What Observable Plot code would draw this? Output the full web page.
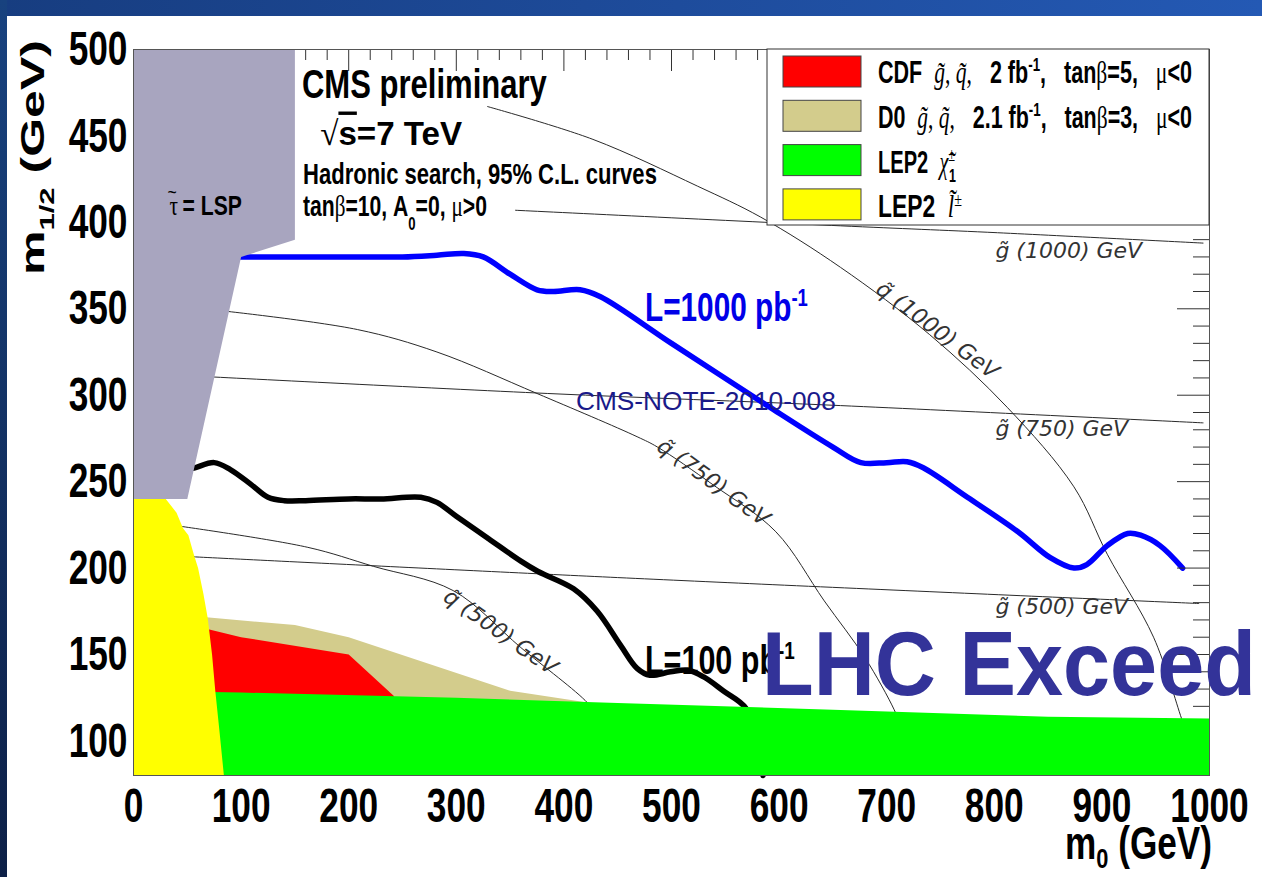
<!DOCTYPE html>
<html>
<head>
<meta charset="utf-8">
<script src="https://cdn.jsdelivr.net/npm/d3@7"></script>
<script src="https://cdn.jsdelivr.net/npm/@observablehq/plot@0.6"></script>
<style>
  html, body { margin: 0; padding: 0; background: #fff; }
  #page { position: relative; width: 1262px; height: 877px; overflow: hidden; background: #fff; }
  #chart { position: absolute; left: 0; top: 0; }
  #top-band { position: absolute; left: 0; top: 0; width: 1262px; height: 16px; z-index: 2;
    background: linear-gradient(to right, #173d80, #2459b4); }
  #left-band { position: absolute; left: 0; top: 0; width: 7px; height: 877px; z-index: 2;
    background: linear-gradient(to bottom, #18427f, #0d2047); }
</style>
</head>
<body>
<div id="page">
  <div id="chart"></div>
  <div id="top-band"></div>
  <div id="left-band"></div>
</div>
<script>
const SANS = "'Liberation Sans', Arial, Helvetica, sans-serif";
const SERIF = "'Liberation Serif', 'Times New Roman', serif";
const LIGHT = "'DejaVu Sans', sans-serif";

// ---- axis ticks (GeV) ----
const m0Ticks = [0, 100, 200, 300, 400, 500, 600, 700, 800, 900, 1000];
const m12Ticks = [100, 150, 200, 250, 300, 350, 400, 450, 500];
const m0MinorTicks = d3.range(0, 1001, 20).filter(v => v % 100 !== 0);
const m12MinorTicks = d3.range(80, 501, 10).filter(v => v % 50 !== 0);

// ---- 95% C.L. reach curves, [m0, m1/2] ----
const reach1000 = [[95,380],[150,380],[200,380],[250,380],[282,381],[307,382],[325,380],[350,370],
  [375,361],[390,360],[415,361],[434,357],[500,330],[589,294],[650,270],[676,261],[700,261],
  [719,261.5],[734,258],[775,241],[822,221],[852,206],[874,200],[886,202],[905,213],[924,220],
  [936,219],[954,213],[975,200]];
const reach100 = [[50,257],[57,258],[75,261],[90,257],[110,248],[125,241],[140,239],[160,239],
  [200,240],[230,240],[267,241],[282,238],[300,230],[330,217],[360,204],[376,198],[409,188],
  [431,175],[453,155],[468,142],[480,138],[499,140],[515,141],[530,137],[548,129],[569,119],
  [578,100],[585,80]];

// ---- iso-mass contours ----
const gluino1000 = [[355,407],[657,398],[803,394],[994,388]];
const gluino750 = [[60,311],[385,301],[657,294],[994,284]];
const gluino500 = [[40,207],[450,194.5],[990,179.5]];
const squark1000 = [[329,467],[427,448],[524,421],[583,403],[657,374],[740,335],[812,293],
  [874,247],[905,208],[948,160],[974,113],[978,106]];
const squark750 = [[80,349],[208,338],[282,325],[375,301],[468,276],[487,270],[539,248],
  [597,221],[642,181],[680,148],[707,118],[712,110]];
const squark500 = [[40,224.5],[162,212],[223,201],[297,187],[360,154],[422,122],[430,115]];

const gluinoLabels = [
  {m0: 801, m12: 383.5, text: "g\u0303 (1000) GeV"},
  {m0: 801, m12: 280.5, text: "g\u0303 (750) GeV"},
  {m0: 801, m12: 177.5, text: "g\u0303 (500) GeV"}
];
const squarkLabels = [
  {m0: 747, m12: 337.5, angle: 37, text: "q\u0303 (1000) GeV"},
  {m0: 539, m12: 249.5, angle: 36, text: "q\u0303 (750) GeV"},
  {m0: 341, m12: 163, angle: 35, text: "q\u0303 (500) GeV"}
];

// ---- excluded regions ----
const stauLsp = [[0,500],[150,500],[150,390],[100,380],[50,240],[0,240]];
const lep2Slepton = [[0,80],[0,240],[30,240],[40,232],[46,223],[51,219],[56,208],[60,200],
  [65,185],[69,171],[73,150],[76,129],[80,105],[84,80]];
const lep2Chargino = [[0,129],[100,128],[300,125],[450,122],[650,118],[850,114],[1000,113],[1000,80],[0,80]];
const cdf = [[60,166],[100,160],[200,150],[242,126],[242,110],[60,110]];
const d0 = [[60,172],[150,167],[200,160],[350,129],[425,122],[425,110],[60,110]];

// ---- legend ----
const legendColors = ["#ff0000", "#d3cc8c", "#00ff00", "#ffff00"];
const legendLabels = [
  ["CDF  ", {t: "g\u0303", serif: true, italic: true}, {t: ", ", serif: true}, {t: "q\u0303", serif: true, italic: true},
   {t: ",", serif: true}, "   2 fb", {t: "-1", sup: true}, ",   tan", {t: "\u03b2", serif: true}, "=5,   ",
   {t: "\u03bc", serif: true}, "<0"],
  ["D0  ", {t: "g\u0303", serif: true, italic: true}, {t: ", ", serif: true}, {t: "q\u0303", serif: true, italic: true},
   {t: ",", serif: true}, "   2.1 fb", {t: "-1", sup: true}, ",   tan", {t: "\u03b2", serif: true}, "=3,   ",
   {t: "\u03bc", serif: true}, "<0"],
  ["LEP2  ", {t: "\u03c7\u0303", serif: true, italic: true}, {t: "\u00b1", sup: true, serif: true},
   {t: "1", sub: true, dx: -0.3}],
  ["LEP2  ", {t: "l\u0303", serif: true, italic: true}, {t: "\u00b1", sup: true, serif: true}]
];
const legendWidths = [314, 314, 84, 84];

// ---- layout ----
const W = 1262, H = 877, ML = 133, MR = 53, MT = 49, MB = 102;
const frameW = W - ML - MR, frameH = H - MT - MB;
const xy = {x: d => d[0], y: d => d[1]};
const contour = {...xy, stroke: "#2a2a2a", strokeWidth: 1, curve: "catmull-rom"};
const region = (data, color, curve = "linear") => Plot.line(data, {...xy, fill: color, stroke: "none", curve});
const tickText = {tickSize: 0, fontSize: 49, fontWeight: "bold", fontFamily: SANS, fill: "#000",
  tickFormat: d => `${d}`, label: null};

const plot = Plot.plot({
  width: W, height: H,
  marginLeft: ML, marginRight: MR, marginTop: MT, marginBottom: MB,
  x: {domain: [0, 1000]},
  y: {domain: [80, 500]},
  style: {background: "transparent", fontFamily: SANS, overflow: "visible"},
  marks: [
    ...[gluino1000, gluino750, gluino500, squark1000, squark750, squark500].map(c => Plot.line(c, contour)),
    Plot.line(reach100, {...xy, stroke: "#000", strokeWidth: 5.5, curve: "catmull-rom"}),
    Plot.line(reach1000, {...xy, stroke: "#0000ff", strokeWidth: 5.5, curve: "catmull-rom"}),
    // inward ticks along the top and right edges
    Plot.ruleX(m0MinorTicks, {x: d => d, insetBottom: frameH - 11, stroke: "#333"}),
    Plot.ruleX(m0Ticks, {x: d => d, insetBottom: frameH - 22, stroke: "#333"}),
    Plot.ruleY(m12MinorTicks, {y: d => d, insetLeft: frameW - 16, stroke: "#333"}),
    Plot.ruleY(m12Ticks, {y: d => d, insetLeft: frameW - 32, stroke: "#333"}),
    region(d0, "#d3cc8c"),
    region(cdf, "#ff0000"),
    region(lep2Chargino, "#00ff00"),
    region(lep2Slepton, "#ffff00"),
    region(stauLsp, "#a8a5bf"),
    Plot.frame({stroke: "#555"}),
    Plot.axisX(m0Ticks, {...tickText, anchor: "bottom", tickPadding: 12}),
    Plot.axisY(m12Ticks, {...tickText, anchor: "left", tickPadding: 6}),
    Plot.text(gluinoLabels, {x: "m0", y: "m12", text: "text", textAnchor: "start", fontSize: 22,
      fontStyle: "italic", fontWeight: 300, fontFamily: LIGHT, fill: "#333"}),
    Plot.text(squarkLabels, {x: "m0", y: "m12", text: "text", rotate: "angle", textAnchor: "middle", fontSize: 22,
      fontStyle: "italic", fontWeight: 300, fontFamily: LIGHT, fill: "#333"})
  ]
});
document.getElementById("chart").append(plot);

// condensed bold tick labels: narrow each glyph run about its own anchor
plot.querySelectorAll('g[aria-label="x-axis tick label"] text, g[aria-label="y-axis tick label"] text').forEach(t => {
  const tr = t.getAttribute("transform") || "";
  t.setAttribute("transform", `${tr} scale(0.72,1)`);
});

const X = plot.scale("x"), Y = plot.scale("y");
const svg = d3.select(plot);

// rich text: parts are plain strings or {t, sup, sub, serif, italic, over, tilde, dx}
function note(parent, parts, o) {
  const size = o.size;
  const t = parent.append("text")
    .attr("text-anchor", "start")
    .attr("font-family", o.family || SANS)
    .attr("font-weight", o.weight || "bold")
    .attr("font-size", size)
    .attr("fill", o.fill || "#000")
    .attr("xml:space", "preserve")
    .style("white-space", "pre");
  let shift = 0;
  for (const seg of parts) {
    const s = typeof seg === "string" ? {t: seg} : seg;
    const target = s.sup ? -0.38 * size : s.sub ? (s.drop || 0.3) * size : s.tilde ? -0.6 * size : 0;
    const ts = t.append("tspan").text(s.t);
    if (target !== shift) ts.attr("dy", target - shift);
    shift = target;
    if (s.sup || s.sub) ts.attr("font-size", 0.62 * size);
    if (s.tilde) ts.attr("font-size", 0.75 * size).attr("font-weight", "normal").attr("dx", -0.5 * size);
    if (s.serif) ts.attr("font-family", SERIF).attr("font-weight", "normal");
    if (s.italic) ts.attr("font-style", "italic");
    if (s.dx) ts.attr("dx", s.dx * size);
    if (s.over) ts.style("text-decoration", "overline");
  }
  const w = t.node().getComputedTextLength();
  const k = o.width ? o.width / w : (o.sx || 1);
  const off = o.anchor === "end" ? -w : o.anchor === "middle" ? -w / 2 : 0;
  t.attr("x", off);
  t.attr("transform", `translate(${o.x},${o.y}) rotate(${o.rotate || 0}) scale(${k},${o.sy || 1})`);
  return t;
}

const notes = svg.append("g").attr("aria-label", "annotations");
note(notes, ["CMS preliminary"], {x: X.apply(157), y: Y.apply(471.7), size: 40, width: 245});
note(notes, [{t: "\u221a", serif: true}, {t: "s", over: true}, "=7 TeV"], {x: X.apply(174), y: Y.apply(444.5), size: 34, width: 142});
note(notes, ["Hadronic search, 95% C.L. curves"], {x: X.apply(158), y: Y.apply(421.9), size: 30, width: 354});
note(notes, ["tan", {t: "\u03b2", serif: true}, "=10, A", {t: "0", sub: true, drop: 0.5}, "=0, ", {t: "\u03bc", serif: true}, ">0"],
  {x: X.apply(158), y: Y.apply(403.4), size: 29, width: 184});
note(notes, [{t: "\u03c4", serif: true}, {t: "~", tilde: true}, " = LSP"], {x: X.apply(32), y: Y.apply(404), size: 27, width: 83});
note(notes, ["L=1000 pb", {t: "-1", sup: true}], {x: X.apply(475.8), y: Y.apply(342.6), size: 40, width: 163, fill: "#0000e8"});
note(notes, ["L=100 pb", {t: "-1", sup: true}], {x: X.apply(475.8), y: Y.apply(138.4), size: 40, width: 150});
note(notes, ["CMS-NOTE-2010-008"], {x: X.apply(411.7), y: Y.apply(291.2), size: 25, width: 260, weight: "normal", fill: "#1a1a8a"});

// axis titles
note(notes, ["m", {t: "0", sub: true, drop: 0.2}, " (GeV)"], {x: 1212, y: 859, size: 46, width: 147, anchor: "end"});
note(notes, ["m", {t: "1/2", sub: true}, " (GeV)"], {x: 44, y: 275, size: 48, width: 235, rotate: -90, sy: 0.68});

// legend box
const legLeft = 767, legRight = ML + frameW, legTop = MT, legBottom = 225;
const legend = svg.append("g").attr("aria-label", "legend");
legend.append("rect").attr("x", legLeft).attr("y", legTop)
  .attr("width", legRight - legLeft).attr("height", legBottom - legTop)
  .attr("fill", "#fff").attr("stroke", "#333");
legendLabels.forEach((parts, i) => {
  legend.append("rect").attr("x", 783).attr("y", 56 + i * 44.3).attr("width", 78).attr("height", 31)
    .attr("fill", legendColors[i]).attr("stroke", "#444");
  note(legend, parts, {x: 878, y: 83 + i * 44.8, size: 31, width: legendWidths[i]});
});

// watermark
note(notes, ["LHC Exceed"], {x: X.apply(584.6), y: Y.apply(126.3), size: 91, width: 494, fill: "#333399"});
</script>
</body>
</html>
